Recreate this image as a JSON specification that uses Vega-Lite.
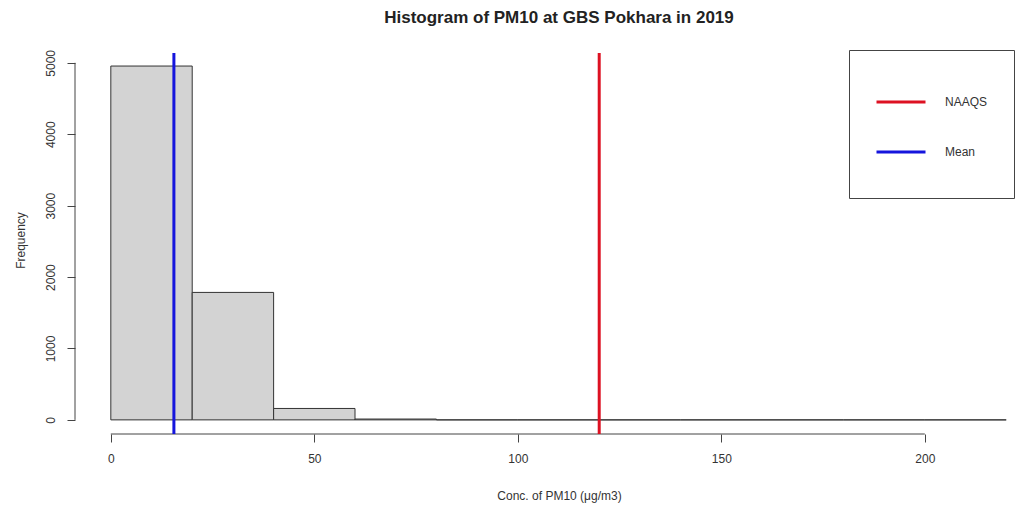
{
  "$schema": "https://vega.github.io/schema/vega-lite/v6.json",
  "width": 954,
  "height": 381,
  "autosize": {"type": "none"},
  "padding": {"left": 75, "top": 53, "right": 0, "bottom": 72},
  "background": "white",
  "title": {
    "text": "Histogram of PM10 at GBS Pokhara in 2019",
    "anchor": "middle",
    "font": "Liberation Sans",
    "fontSize": 17,
    "fontWeight": "bold",
    "color": "#222",
    "dx": 7,
    "offset": 22
  },
  "config": {
    "view": {"stroke": null},
    "font": "Liberation Sans",
    "axis": {
      "grid": false,
      "domain": false,
      "tickSize": 8,
      "tickColor": "#444",
      "labelColor": "#333",
      "labelFont": "Liberation Sans",
      "labelFontSize": 12,
      "labelFlush": false,
      "labelOverlap": false,
      "titleFont": "Liberation Sans",
      "titleFontSize": 12,
      "titleFontWeight": "normal",
      "titleColor": "#333"
    }
  },
  "layer": [
    {
      "data": {
        "values": [
          {"bin_start": 0, "bin_end": 20, "count": 4955},
          {"bin_start": 20, "bin_end": 40, "count": 1785},
          {"bin_start": 40, "bin_end": 60, "count": 160},
          {"bin_start": 60, "bin_end": 80, "count": 12},
          {"bin_start": 80, "bin_end": 100, "count": 0},
          {"bin_start": 100, "bin_end": 120, "count": 0},
          {"bin_start": 120, "bin_end": 140, "count": 0},
          {"bin_start": 140, "bin_end": 160, "count": 0},
          {"bin_start": 160, "bin_end": 180, "count": 0},
          {"bin_start": 180, "bin_end": 200, "count": 0},
          {"bin_start": 200, "bin_end": 220, "count": 0}
        ]
      },
      "mark": {"type": "bar", "fill": "#D3D3D3", "stroke": "#333", "strokeWidth": 1},
      "encoding": {
        "x": {
          "field": "bin_start",
          "type": "quantitative",
          "scale": {"domain": [-8.8, 225.6], "nice": false, "zero": false},
          "axis": {
            "values": [0, 50, 100, 150, 200],
            "labelPadding": 11,
            "title": "Conc. of PM10 (μg/m3)",
            "titleX": 484,
            "titleY": 61,
            "titleBaseline": "middle",
            "titleAnchor": null
          }
        },
        "x2": {"field": "bin_end"},
        "y": {
          "field": "count",
          "type": "quantitative",
          "scale": {"domain": [-197.6, 5137.6], "nice": false, "zero": false},
          "axis": {
            "values": [0, 1000, 2000, 3000, 4000, 5000],
            "format": "d",
            "labelAngle": -90,
            "labelAlign": "center",
            "labelBaseline": "middle",
            "labelPadding": 17,
            "title": "Frequency",
            "titleX": -55,
            "titleY": 187,
            "titleAngle": -90,
            "titleAlign": "center",
            "titleBaseline": "middle"
          }
        },
        "y2": {"datum": 0}
      }
    },
    {
      "data": {"values": [{"x_from": 0, "x_to": 200, "y_at": -197.6}]},
      "mark": {"type": "rule", "color": "#444", "strokeWidth": 1},
      "encoding": {
        "x": {"field": "x_from", "type": "quantitative"},
        "x2": {"field": "x_to"},
        "y": {"field": "y_at", "type": "quantitative"}
      }
    },
    {
      "data": {"values": [{"x_at": -8.8, "y_from": 0, "y_to": 5000}]},
      "mark": {"type": "rule", "color": "#444", "strokeWidth": 1},
      "encoding": {
        "x": {"field": "x_at", "type": "quantitative"},
        "y": {"field": "y_from", "type": "quantitative"},
        "y2": {"field": "y_to"}
      }
    },
    {
      "data": {
        "values": [
          {"line": "NAAQS", "value": 120},
          {"line": "Mean", "value": 15.5}
        ]
      },
      "mark": {"type": "rule", "strokeWidth": 3},
      "encoding": {
        "x": {"field": "value", "type": "quantitative"},
        "color": {
          "field": "line",
          "type": "nominal",
          "scale": {"domain": ["NAAQS", "Mean"], "range": ["#DD1122", "#1515DD"]},
          "legend": {
            "orient": "none",
            "legendX": 774,
            "legendY": -3,
            "title": null,
            "symbolType": "stroke",
            "symbolSize": 2401,
            "symbolStrokeWidth": 3,
            "labelFont": "Liberation Sans",
            "labelFontSize": 12,
            "labelColor": "#333",
            "labelOffset": 18,
            "labelExpr": "[datum.label, '']",
            "padding": 26,
            "rowPadding": 4,
            "strokeColor": "#444",
            "fillColor": "white"
          }
        }
      }
    }
  ]
}
